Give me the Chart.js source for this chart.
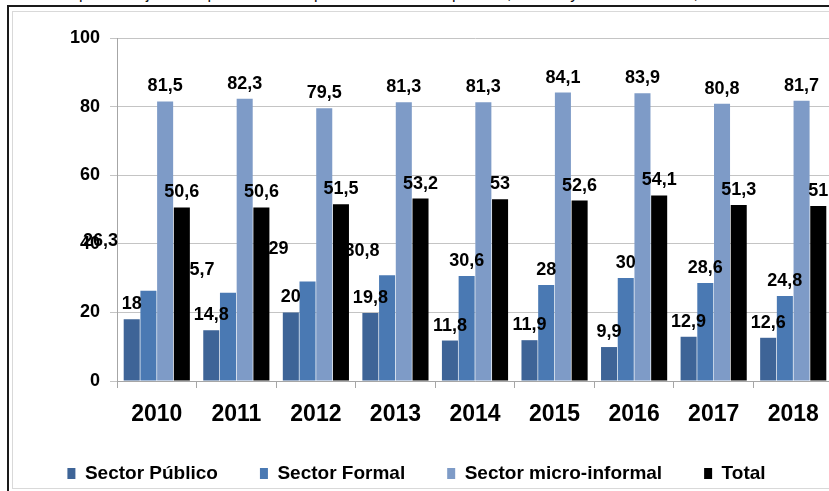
<!DOCTYPE html>
<html>
<head>
<meta charset="utf-8">
<script src="https://cdn.jsdelivr.net/npm/chart.js@4.4.1/dist/chart.umd.min.js"></script>
<style>
  html, body { margin: 0; padding: 0; background: #fff; overflow: hidden; width: 829px; height: 491px; }
  #titulo { position: absolute; left: 79px; top: -14px; font: 16px "Liberation Sans", Arial, sans-serif; line-height: 16px; color: #111; white-space: nowrap; letter-spacing: 0.6px; }
  #marcoExt { position: absolute; left: 7px; top: 5px; width: 900px; height: 600px; border-top: 2px solid #1a1a1a; border-left: 2px solid #1a1a1a; }
  #marcoInt { position: absolute; left: 12px; top: 11px; width: 900px; height: 476px; border: 1px solid #d9d9d9; }
  #chart { position: absolute; left: 0; top: 0; }
</style>
</head>
<body>
<div id="titulo">porcentaje de la población ocupada en el sector público, formal y micro-informal, 2010-2018</div>
<div id="marcoExt"></div>
<div id="marcoInt"></div>
<canvas id="chart" width="850" height="493"></canvas>
<script>
  // -----------------------------
  // Datos
  // -----------------------------
  const years = ["2010", "2011", "2012", "2013", "2014", "2015", "2016", "2017", "2018"];
  const sectorPublico = [18, 14.8, 20, 19.8, 11.8, 11.9, 9.9, 12.9, 12.6];
  const sectorFormal = [26.3, 25.7, 29, 30.8, 30.6, 28, 30, 28.6, 24.8];
  const sectorMicro = [81.5, 82.3, 79.5, 81.3, 81.3, 84.1, 83.9, 80.8, 81.7];
  const total = [50.6, 50.6, 51.5, 53.2, 53, 52.6, 54.1, 51.3, 51];
  const yTicks = [0, 20, 40, 60, 80, 100];

  // desplazamiento manual de algunas etiquetas (como en el original)
  const labelShift = {
    1: [[-48, -35], [-31, -8], [-29, -18], [-25, -9]]
  };

  const FONT = "'Liberation Sans', Arial, sans-serif";

  // -----------------------------
  // Etiquetas de datos
  // -----------------------------
  const valueLabels = {
    id: "valueLabels",
    afterDatasetsDraw(chart) {
      const ctx = chart.ctx;
      ctx.save();
      ctx.font = "bold 18px " + FONT;
      ctx.fillStyle = "#000";
      ctx.textAlign = "center";
      ctx.textBaseline = "alphabetic";
      chart.data.datasets.forEach((ds, i) => {
        chart.getDatasetMeta(i).data.forEach((bar, j) => {
          const shift = (labelShift[i] && labelShift[i][j]) || [0, 0];
          const txt = String(ds.data[j]).replace(".", ",");
          ctx.fillText(txt, bar.x + shift[0], bar.y - 10 + shift[1]);
        });
      });
      ctx.restore();
    }
  };

  // -----------------------------
  // Gráfico de barras
  // -----------------------------
  const ctx = document.getElementById("chart").getContext("2d");

  new Chart(ctx, {
    type: "bar",
    data: {
      labels: years,
      datasets: [
        { label: "Sector Público", data: sectorPublico, backgroundColor: "#3e6497" },
        { label: "Sector Formal", data: sectorFormal, backgroundColor: "#4a79b3" },
        { label: "Sector micro-informal", data: sectorMicro, backgroundColor: "#7e9bc7" },
        { label: "Total", data: total, backgroundColor: "#000000" }
      ]
    },
    options: {
      responsive: false,
      animation: false,
      datasets: {
        bar: { categoryPercentage: 0.84, barPercentage: 0.96 }
      },
      layout: {
        padding: { top: 38, right: 17, bottom: 0, left: 0 }
      },
      plugins: {
        legend: {
          position: "bottom",
          labels: {
            boxWidth: 8,
            boxHeight: 11,
            padding: 42,
            color: "#000",
            font: { family: FONT, size: 19, weight: "bold" }
          }
        },
        tooltip: { enabled: false }
      },
      scales: {
        x: {
          grid: {
            offset: true,
            drawOnChartArea: false,
            drawTicks: true,
            tickLength: 7,
            color: "#a6a6a6"
          },
          border: { color: "#a6a6a6" },
          ticks: {
            color: "#000",
            padding: 13,
            font: { family: FONT, size: 23, weight: "bold" }
          },
          afterFit(scale) { scale.height = 41; }
        },
        y: {
          min: 0,
          max: 100,
          afterBuildTicks(scale) {
            scale.ticks = yTicks.map(v => ({ value: v }));
          },
          grid: { color: "#c4c4c4", tickLength: 7 },
          border: { color: "#a6a6a6" },
          ticks: {
            color: "#000",
            padding: 10,
            font: { family: FONT, size: 18, weight: "bold" }
          },
          afterFit(scale) { scale.width = 117; }
        }
      }
    },
    plugins: [valueLabels]
  });
</script>
</body>
</html>
